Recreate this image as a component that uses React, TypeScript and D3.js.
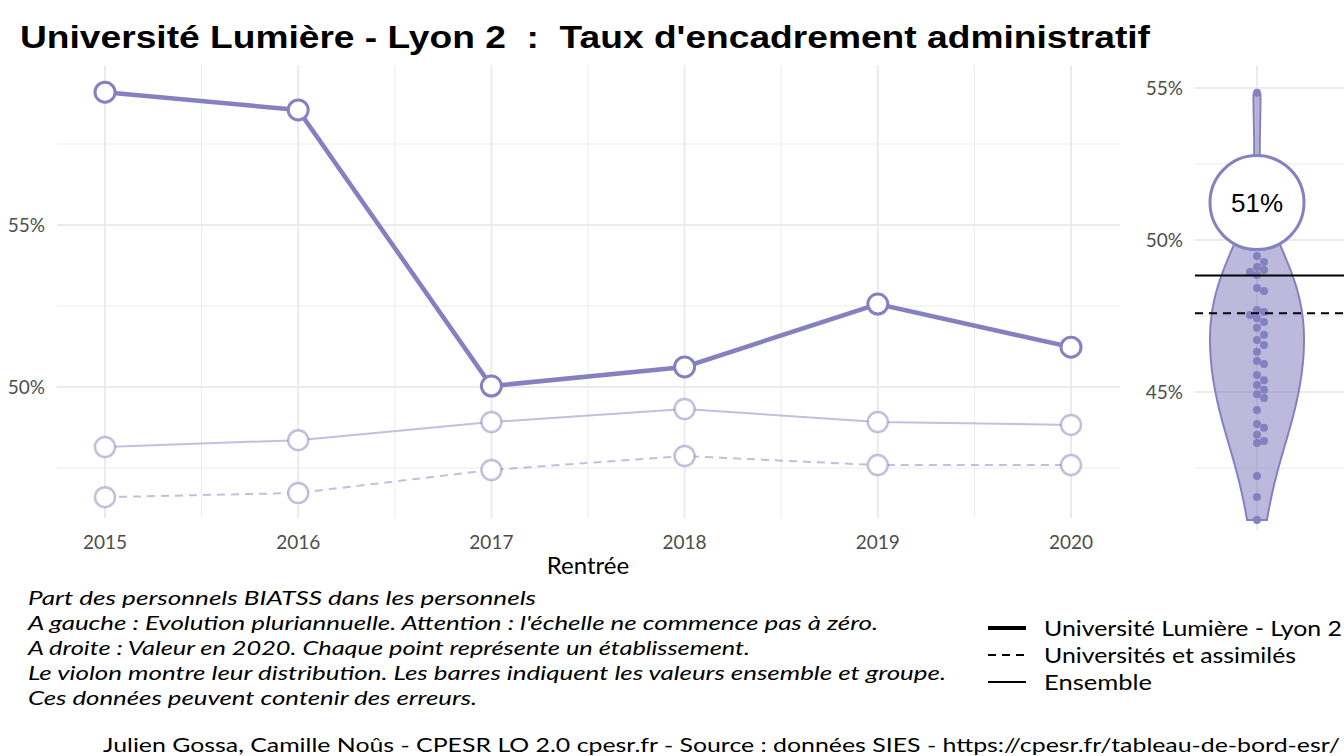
import React from "react";
import * as d3 from "d3";

const years = [2015, 2016, 2017, 2018, 2019, 2020];
const etab = [59.1, 58.55, 50.03, 50.62, 52.56, 51.23];
const ensemble = [48.15, 48.36, 48.92, 49.32, 48.92, 48.83];
const univ = [46.6, 46.73, 47.44, 47.87, 47.59, 47.59];
const pointsY = [93,256,262,267,270,272,275,288,291,310,312,315,318,322,328,335,340,345,352,361,364,375,380,385,390,394,398,410,424,428,435,441,443,476,497,520];
const dist = pointsY.map(y => +(50 - (y - 240) / 30.4).toFixed(2));
const leftTicks = [50, 55];
const leftMinor = [47.5, 52.5, 57.5];
const rightTicks = [45, 50, 55];
const caption = [
  "Part des personnels BIATSS dans les personnels",
  "A gauche : Evolution pluriannuelle. Attention : l'échelle ne commence pas à zéro.",
  "A droite : Valeur en 2020. Chaque point représente un établissement.",
  "Le violon montre leur distribution. Les barres indiquent les valeurs ensemble et groupe.",
  "Ces données peuvent contenir des erreurs.",
];
const captionLen = [508, 850, 722, 918, 449];
const legendItems = [
  { label: "Université Lumière - Lyon 2", w: 4, dash: "", len: 298 },
  { label: "Universités et assimilés", w: 2, dash: "8,6", len: 252 },
  { label: "Ensemble", w: 2, dash: "", len: 108 },
];
const COL = "#8580bf";
const font = "Lato, 'Open Sans', sans-serif";

export default function App() {
  const x = d3.scaleLinear().domain([2015, 2020]).range([105, 1071]);
  const y = d3.scaleLinear().domain([50, 55]).range([387, 225]);
  const yr = d3.scaleLinear().domain([45, 55]).range([392, 88]);
  const line = (vals: number[]) => d3.line<number>().x((_, i) => x(years[i])).y(v => y(v))(vals)!;

  const bw = 1.5;
  const kern = (u: number) => Math.exp(-0.5 * u * u);
  const grid = d3.range(d3.min(dist)!, d3.max(dist)! + 0.001, 0.1);
  const dens = grid.map(g => [g, d3.sum(dist, v => kern((g - v) / bw)) + 0.4] as [number, number]);
  const maxD = d3.max(dens, d => d[1])!;
  const wS = d3.scaleLinear().domain([0, maxD]).range([0, 47]);
  const cx = 1257;
  const violin = d3.area<[number, number]>().y(d => yr(d[0])).x0(d => cx - wS(d[1])).x1(d => cx + wS(d[1])).curve(d3.curveBasis)(dens)!;

  const placed: { x: number; y: number }[] = [];
  dist.forEach(v => {
    const py = yr(v);
    let k = 0;
    const offs = [0, 7, -7, 4, -4, 10, -10, 14, -14];
    while (placed.some(p => Math.hypot(p.x - (cx + offs[k]), p.y - py) < 7) && k < offs.length - 1) k++;
    placed.push({ x: cx + offs[k], y: py });
  });

  const yearsMinor = d3.range(2015.5, 2020.5, 1);
  return (
    <svg width={1344} height={756} style={{ position: "absolute", left: 0, top: 0, background: "#fff" }} fontFamily={font}>
      <text x={20} y={48} fontFamily="'Liberation Sans', Arial, sans-serif" fontWeight="bold" fontSize={31} style={{ whiteSpace: "pre" }} textLength={1130} lengthAdjust="spacingAndGlyphs">Université Lumière - Lyon 2  :  Taux d'encadrement administratif</text>
      {leftMinor.map(t => <line key={"m" + t} x1={57} x2={1120} y1={y(t)} y2={y(t)} stroke="#ebebeb" strokeWidth={1} />)}
      {leftTicks.map(t => <line key={"M" + t} x1={57} x2={1120} y1={y(t)} y2={y(t)} stroke="#ebebeb" strokeWidth={2} />)}
      {yearsMinor.map(t => <line key={"vm" + t} x1={x(t)} x2={x(t)} y1={65} y2={518} stroke="#ebebeb" strokeWidth={1} />)}
      {years.map(t => <line key={"v" + t} x1={x(t)} x2={x(t)} y1={65} y2={518} stroke="#ebebeb" strokeWidth={2} />)}
      {leftTicks.map(t => <text key={"l" + t} x={45} y={y(t) + 7} textAnchor="end" fontSize={19} fill="#4d4d4d">{t}%</text>)}
      {years.map(t => <text key={"x" + t} x={x(t)} y={549} textAnchor="middle" fontSize={19} fill="#4d4d4d">{t}</text>)}
      <text x={588} y={574} textAnchor="middle" fontSize={24}>Rentrée</text>
      <path d={line(ensemble)} fill="none" stroke={COL} strokeOpacity={0.5} strokeWidth={2} />
      <path d={line(univ)} fill="none" stroke={COL} strokeOpacity={0.5} strokeWidth={2} strokeDasharray="8,6" />
      <path d={line(etab)} fill="none" stroke={COL} strokeWidth={4.5} />
      {[ensemble, univ].map((s, j) => s.map((v, i) => <circle key={j + "-" + i} cx={x(years[i])} cy={y(v)} r={10} fill="#fff" stroke={COL} strokeOpacity={0.5} strokeWidth={2.5} />))}
      {etab.map((v, i) => <circle key={"e" + i} cx={x(years[i])} cy={y(v)} r={10} fill="#fff" stroke={COL} strokeWidth={3} />)}
      {[42.5, 47.5, 52.5].map(t => <line key={"rm" + t} x1={1195} x2={1344} y1={yr(t)} y2={yr(t)} stroke="#ebebeb" />)}
      {rightTicks.map(t => <line key={"rM" + t} x1={1195} x2={1344} y1={yr(t)} y2={yr(t)} stroke="#ebebeb" strokeWidth={2} />)}
      <line x1={cx} x2={cx} y1={65} y2={530} stroke="#ebebeb" strokeWidth={2} />
      {rightTicks.map(t => <text key={"r" + t} x={1183} y={yr(t) + 7} textAnchor="end" fontSize={19} fill="#4d4d4d">{t}%</text>)}
      <path d={violin} fill={COL} fillOpacity={0.55} stroke={COL} strokeWidth={2} />
      {placed.map((p, i) => <circle key={"p" + i} cx={p.x} cy={p.y} r={4} fill={COL} />)}
      <line x1={1195} x2={1344} y1={yr(ensemble[5])} y2={yr(ensemble[5])} stroke="#000" strokeWidth={2} />
      <line x1={1195} x2={1344} y1={yr(univ[5])} y2={yr(univ[5])} stroke="#000" strokeWidth={2} strokeDasharray="8,6" />
      <circle cx={cx} cy={yr(etab[5])} r={47} fill="#fff" stroke={COL} strokeWidth={3} />
      <text x={cx} y={yr(etab[5]) + 9} textAnchor="middle" fontSize={26} fontFamily="'Liberation Sans', Arial, sans-serif">{Math.round(etab[5])}%</text>
      {caption.map((c, i) => <text key={"c" + i} x={28} y={605 + i * 25} fontSize={20} fontStyle="italic" textLength={captionLen[i]} lengthAdjust="spacingAndGlyphs">{c}</text>)}
      {legendItems.map((l, i) => (
        <g key={"lg" + i}>
          <line x1={988} x2={1026} y1={628 + i * 27} y2={628 + i * 27} stroke="#000" strokeWidth={l.w} strokeDasharray={l.dash} />
          <text x={1044} y={636 + i * 27} fontSize={21} textLength={l.len} lengthAdjust="spacingAndGlyphs">{l.label}</text>
        </g>
      ))}
      <text x={103} y={752} fontSize={20} textLength={1237} lengthAdjust="spacingAndGlyphs">Julien Gossa, Camille Noûs - CPESR LO 2.0 cpesr.fr - Source : données SIES - https://cpesr.fr/tableau-de-bord-esr/</text>
    </svg>
  );
}
